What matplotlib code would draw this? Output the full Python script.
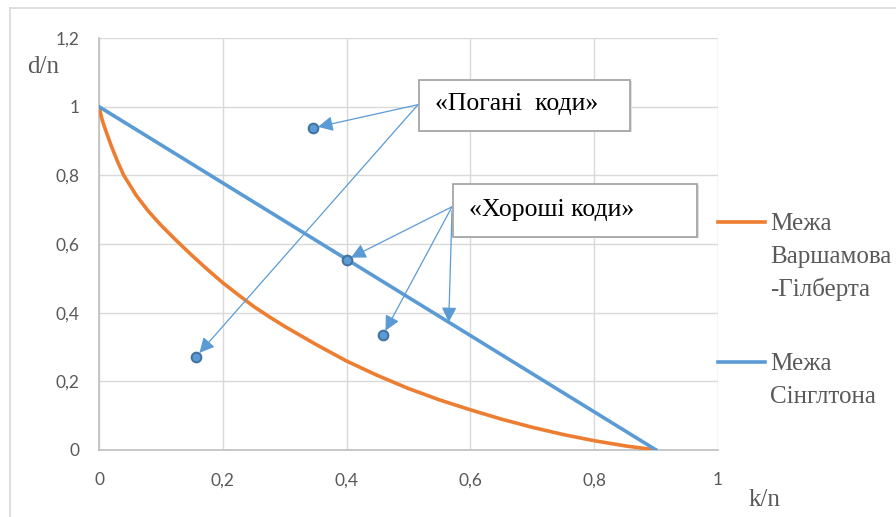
import matplotlib
matplotlib.use("Agg")
import matplotlib.pyplot as plt
from matplotlib.patches import Rectangle
from matplotlib.lines import Line2D
import matplotlib.transforms as mtransforms

# ---------------- data ----------------
vg_x = [0, 0.005, 0.01, 0.02, 0.03, 0.04, 0.06, 0.08, 0.1, 0.125, 0.15, 0.175,
        0.2, 0.225, 0.25, 0.275, 0.3, 0.35, 0.4, 0.45, 0.5, 0.55, 0.6, 0.65,
        0.7, 0.75, 0.8, 0.85, 0.9]
vg_y = [1, 0.962, 0.935, 0.885, 0.84, 0.8, 0.742, 0.695, 0.655, 0.61, 0.567, 0.526,
        0.487, 0.452, 0.418, 0.388, 0.36, 0.308, 0.259, 0.217, 0.179, 0.146, 0.117, 0.09,
        0.066, 0.045, 0.027, 0.012, 0]
singleton_x = [0, 0.9]
singleton_y = [1, 0]

bad_codes_x = [0.346, 0.157]
bad_codes_y = [0.938, 0.272]
good_codes_x = [0.400, 0.459]
good_codes_y = [0.554, 0.335]
good_line_pointer_x = 0.565  # pointer onto the Singleton bound

x_ticks = [0, 0.2, 0.4, 0.6, 0.8, 1]
x_tick_labels = ["0", "0,2", "0,4", "0,6", "0,8", "1"]
y_ticks = [0, 0.2, 0.4, 0.6, 0.8, 1, 1.2]
y_tick_labels = ["0", "0,2", "0,4", "0,6", "0,8", "1", "1,2"]

legend_labels = ["Межа\nВаршамова\n-Гілберта", "Межа\nСінглтона"]
bad_label = "«Погані  коди»"
good_label = "«Хороші коди»"
x_label = "k/n"
y_label = "d/n"

# ---------------- style ----------------
W, H = 896, 517
ORANGE = "#ED7D31"
BLUE = "#5B9BD5"
BLUE_DARK = "#41719C"
GRID = "#D9D9D9"
TXT = "#595959"
SERIF = ["Liberation Serif", "DejaVu Serif"]
SANS = ["Lato", "DejaVu Sans"]

fig = plt.figure(figsize=(W / 100, H / 100), dpi=100)
fig.patch.set_facecolor("white")

def px(x, y):
    return x / W, 1 - y / H

ax_l, ax_t = px(99, 38)
ax_r, ax_b = px(718, 450)
ax = fig.add_axes([ax_l, ax_b, ax_r - ax_l, ax_t - ax_b])
ax.set_xlim(0, 1)
ax.set_ylim(0, 1.2)
ax.set_xticks(x_ticks)
ax.set_xticklabels(x_tick_labels)
ax.set_yticks(y_ticks)
ax.set_yticklabels(y_tick_labels)
ax.tick_params(length=0, colors=TXT, labelsize=12.5)
ax.tick_params(axis="x", pad=16)
ax.tick_params(axis="y", pad=14)
for lab in ax.get_xticklabels() + ax.get_yticklabels():
    lab.set_fontfamily(SANS)
ax.grid(True, color=GRID, lw=1)
ax.set_axisbelow(True)
for s in ["top", "right"]:
    ax.spines[s].set_visible(False)
for s in ["left", "bottom"]:
    ax.spines[s].set_color("#BFBFBF")
    ax.spines[s].set_linewidth(1.2)

# series
ax.plot(vg_x, vg_y, color=ORANGE, lw=2.6, solid_capstyle="round",
        solid_joinstyle="round", zorder=3)
ax.plot(singleton_x, singleton_y, color=BLUE, lw=2.6, solid_capstyle="round", zorder=3)

# points
all_px = bad_codes_x + good_codes_x
all_py = bad_codes_y + good_codes_y
ax.plot(all_px, all_py, ls="none", marker="o", ms=7, mfc=BLUE, mec=BLUE_DARK,
        mew=1.4, zorder=5)

def d(xp, yp):
    return (xp - 99) / 619, (450 - yp) / 343

# boxes
def box(x0, y0, x1, y1):
    sh = Rectangle((x0, y0), x1 - x0, y1 - y0, facecolor="#E0E0E0",
                   edgecolor="none", zorder=6, clip_on=False)
    sh.set_transform(ax.transData + mtransforms.ScaledTranslation(
        1.5 / 100, -1.5 / 100, fig.dpi_scale_trans))
    ax.add_patch(sh)
    r = Rectangle((x0, y0), x1 - x0, y1 - y0, facecolor="white",
                  edgecolor="#A6A6A6", lw=1.3, zorder=7, clip_on=False)
    ax.add_patch(r)

bx0, by1 = d(419, 80)
bx1, by0 = d(630, 131)
box(bx0, by0, bx1, by1)
ax.text(*d(517, 104), bad_label, fontfamily=SERIF, fontsize=18.5, color="black",
        ha="center", va="center", zorder=8)

gx0, gy1 = d(453, 184)
gx1, gy0 = d(697, 237)
box(gx0, gy0, gx1, gy1)
ax.text(*d(469, 210), good_label, fontfamily=SERIF, fontsize=18.5, color="black",
        ha="left", va="center", zorder=8)

# arrows
aprops = dict(arrowstyle="-|>,head_length=0.6,head_width=0.3", color=BLUE, lw=0.9,
              shrinkA=0, mutation_scale=15)
bad_start = d(418, 105)
for x, y in zip(bad_codes_x, bad_codes_y):
    ax.annotate("", xy=(x, y), xytext=bad_start,
                arrowprops=dict(aprops, shrinkB=3.5), zorder=4)
good_start = d(452, 207)
for x, y in zip(good_codes_x, good_codes_y):
    ax.annotate("", xy=(x, y), xytext=good_start,
                arrowprops=dict(aprops, shrinkB=3.5), zorder=4)
ptr_y = singleton_y[0] + (singleton_y[1] - singleton_y[0]) * good_line_pointer_x / singleton_x[1]
ax.annotate("", xy=(good_line_pointer_x, ptr_y), xytext=d(452, 211),
            arrowprops=dict(aprops, shrinkB=0), zorder=4)

# axis labels
fig.text(*px(43, 67), y_label, fontfamily=SERIF, fontsize=18, color=TXT,
         ha="center", va="center")
fig.text(*px(765, 500), x_label, fontfamily=SERIF, fontsize=18, color=TXT,
         ha="center", va="center")

# legend
leg_y = [222, 362]
cols = [ORANGE, BLUE]
for yy, c, lab in zip(leg_y, cols, legend_labels):
    x0, y0 = px(718, yy)
    x1, _ = px(765, yy)
    fig.add_artist(Line2D([x0, x1], [y0, y0], color=c, lw=2.6))
    for i, line in enumerate(lab.split("\n")):
        fig.text(*px(770, yy + i * 32.5), line, fontfamily=SERIF, fontsize=18,
                 color=TXT, ha="left", va="center_baseline")

# chart border
fig.add_artist(Line2D([10 / W, 10 / W], [0, 1 - 8 / H], color="#D9D9D9", lw=1.2))
fig.add_artist(Line2D([10 / W, 1], [1 - 8 / H, 1 - 8 / H], color="#D9D9D9", lw=1.2))

fig.savefig("out.png", dpi=100)
